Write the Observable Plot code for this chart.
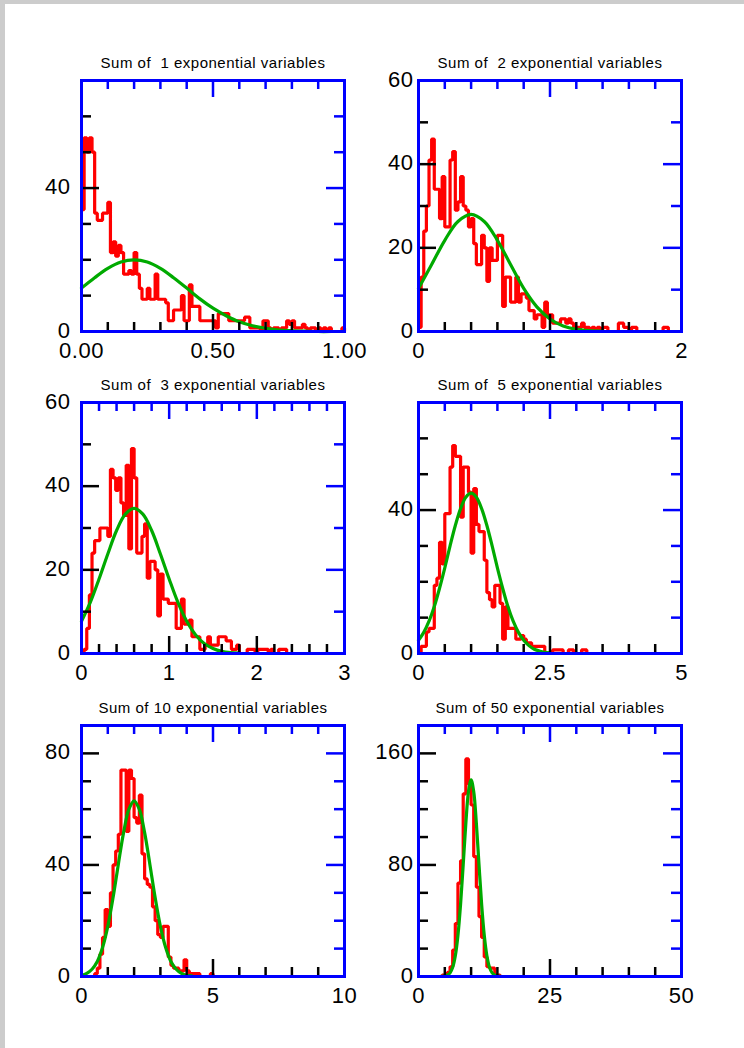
<!DOCTYPE html>
<html><head><meta charset="utf-8">
<script src="https://cdn.jsdelivr.net/npm/d3@7"></script>
<script src="https://cdn.jsdelivr.net/npm/@observablehq/plot@0.6"></script>
<style>
html,body{margin:0;padding:0;width:744px;height:1048px;overflow:hidden;background:#cccccc}
#page{position:absolute;left:5px;top:4px;right:0;bottom:0;background:#ffffff}
.panel{position:absolute}
svg text{white-space:pre}
</style></head><body><div id="page"></div>
<script>
// ---- data ----
const titles = ["Sum of  1 exponential variables","Sum of  2 exponential variables","Sum of  3 exponential variables",
                "Sum of  5 exponential variables","Sum of 10 exponential variables","Sum of 50 exponential variables"];
const binWidths = [0.01, 0.02, 0.03, 0.05, 0.1, 0.5];

const counts1 = [34,54,50,54,50,33,31,31,33,33, 36,22,25,21,24,22,16,16,17,16, 22,16,12,9,9,12,9,9,16,9,
  9,9,8,3,3,6,6,6,10,3, 3,13,7,7,7,3,3,3,3,3, 3,1,5,5,5,5,3,3,3,3, 3,3,4,4,1,1,1,1,0,3,
  3,1,0,1,1,0,1,1,3,2, 3,1,1,1,2,1,0,1,1,0, 1,0,1,0,1,0,0,0,0,1];
const counts2 = [1,13,24,30,41,46,34,34,27,37, 25,25,41,43,29,31,37,30,29,25, 27,21,16,16,23,20,12,20,17,17,
  23,23,6,13,13,7,7,13,7,9, 9,8,5,5,3,4,4,1,7,4, 4,2,2,2,3,3,2,3,2,1, 1,1,2,1,1,0,1,0,1,0,
  1,1,0,0,0,0,2,2,1,1, 0,1,1,0,0,0,0,0,0,0, 0,0,0,1,1];
const counts3 = [0,1,6,14,24,27,27,30,30,30, 28,44,42,39,42,36,33,45,25,49, 42,24,24,28,31,18,22,22,20,9,
  19,13,13,12,12,12,6,6,13,7, 7,8,4,4,4,1,1,2,4,2, 2,2,4,4,4,3,3,1,1,2, 0,0,0,1,1,1,0,1,1,1,
  1,0,1,0,0,1,1,1];
const counts4 = [0,2,2,6,7,7,19,21,31,25, 39,39,52,58,55,55,38,52,52,45, 28,46,36,34,34,26,17,15,13,19,
  19,14,4,13,7,7,7,4,4,5, 4,3,3,2,2,2,2,2,0,0, 0,1,1,1,1,0,0,1,1,0, 0,0,1,1];
const counts5 = [0,0,0,0,0,1,3,8,14,24, 18,30,40,45,51,74,74,52,74,71, 57,55,65,44,35,33,32,25,20,15,
  14,18,18,7,4,3,3,2,2,6, 2,1,1,1,1,0,0,0,0,1];
const counts6 = [0,0,0,0,0,0,0,0,0,1, 1,3,7,19,38,67,83,131,156,138, 123,86,64,43,28,14,7,6,6,1, 1,0];

const curveX1 = [0,0.05,0.1,0.15,0.2,0.25,0.3,0.35,0.4,0.45,0.5,0.55,0.6,0.65,0.7,0.75,0.8,0.85,0.9,0.95];
const curveY1 = [12.1,15.0,17.6,19.4,20.0,19.4,17.6,15.0,12.1,9.1,6.5,4.4,2.7,1.6,0.9,0.4,0.2,0.1,0.0,0.0];
const curveX2 = [0,0.1,0.2,0.3,0.4,0.5,0.6,0.7,0.8,0.9,1.0,1.1,1.2,1.3,1.4];
const curveY2 = [10.3,16.0,21.8,26.3,28.0,26.3,21.8,16.0,10.3,5.9,3.0,1.3,0.5,0.2,0.1];
const curveX3 = [0,0.1,0.2,0.3,0.4,0.5,0.6,0.7,0.8,0.9,1.0,1.1,1.2,1.3,1.4,1.5,1.6,1.7,1.8];
const curveY3 = [7.7,12.2,17.8,23.8,29.4,33.3,34.7,33.3,29.4,23.8,17.8,12.2,7.7,4.5,2.4,1.2,0.5,0.2,0.1];
const curveX4 = [0,0.1,0.2,0.3,0.4,0.5,0.6,0.7,0.8,0.9,1.0,1.1,1.2,1.3,1.4,1.5,1.6,1.7,1.8,1.9,2.0,2.1,2.2,2.3,2.4,2.5];
const curveY4 = [3.7,5.9,9.0,13.1,18.2,23.9,30.0,35.7,40.4,43.6,44.7,43.6,40.4,35.7,30.0,23.9,18.2,13.1,9.0,5.9,3.7,2.2,1.2,0.7,0.3,0.2];
const curveX5 = [0,0.2,0.4,0.6,0.8,1.0,1.2,1.4,1.6,1.8,2.0,2.2,2.4,2.6,2.8,3.0,3.2,3.4,3.6,3.8,4.0,4.2];
const curveY5 = [0.4,1.1,2.6,5.4,10.4,18.0,28.3,40.2,51.6,59.9,63.0,59.9,51.6,40.2,28.3,18.0,10.4,5.4,2.6,1.1,0.4,0.2];
const curveX6 = [4,4.5,5,5.5,6,6.5,7,7.5,8,8.5,9,9.5,10,10.5,11,11.5,12,12.5,13,13.5,14,14.5,15,15.5,16];
const curveY6 = [0.0,0.1,0.3,0.9,2.6,6.6,14.9,29.6,51.9,80.3,109.8,132.5,141.0,132.5,109.8,80.3,51.9,29.6,14.9,6.6,2.6,0.9,0.3,0.1,0.0];

const xDomains = [[0,1],[0,2],[0,3],[0,5],[0,10],[0,50]];
const yDomains = [[0,70],[0,60],[0,60],[0,70],[0,90],[0,180]];

const xMajor1 = [0,0.5,1],   xLabels1 = ["0.00","0.50","1.00"], xMinor1 = [0.1,0.2,0.3,0.4,0.6,0.7,0.8,0.9];
const xMajor2 = [0,1,2],     xLabels2 = ["0","1","2"],          xMinor2 = [0.2,0.4,0.6,0.8,1.2,1.4,1.6,1.8];
const xMajor3 = [0,1,2,3],   xLabels3 = ["0","1","2","3"],      xMinor3 = [0.2,0.4,0.6,0.8,1.2,1.4,1.6,1.8,2.2,2.4,2.6,2.8];
const xMajor4 = [0,2.5,5],   xLabels4 = ["0","2.5","5"],        xMinor4 = [0.5,1,1.5,2,3,3.5,4,4.5];
const xMajor5 = [0,5,10],    xLabels5 = ["0","5","10"],         xMinor5 = [1,2,3,4,6,7,8,9];
const xMajor6 = [0,25,50],   xLabels6 = ["0","25","50"],        xMinor6 = [5,10,15,20,30,35,40,45];

const yMajor1 = [0,40],      yLabels1 = ["0","40"],             yMinor1 = [10,20,30,50,60];
const yMajor2 = [0,20,40,60],yLabels2 = ["0","20","40","60"],   yMinor2 = [10,30,50];
const yMajor3 = [0,20,40,60],yLabels3 = ["0","20","40","60"],   yMinor3 = [10,30,50];
const yMajor4 = [0,40],      yLabels4 = ["0","40"],             yMinor4 = [10,20,30,50,60];
const yMajor5 = [0,40,80],   yLabels5 = ["0","40","80"],        yMinor5 = [10,20,30,50,60,70];
const yMajor6 = [0,80,160],  yLabels6 = ["0","80","160"],       yMinor6 = [20,40,60,100,120,140];

// ---- layout ----
const counts = [counts1,counts2,counts3,counts4,counts5,counts6];
const curvesX = [curveX1,curveX2,curveX3,curveX4,curveX5,curveX6];
const curvesY = [curveY1,curveY2,curveY3,curveY4,curveY5,curveY6];
const xMajors = [xMajor1,xMajor2,xMajor3,xMajor4,xMajor5,xMajor6];
const xLabelss = [xLabels1,xLabels2,xLabels3,xLabels4,xLabels5,xLabels6];
const xMinors = [xMinor1,xMinor2,xMinor3,xMinor4,xMinor5,xMinor6];
const yMajors = [yMajor1,yMajor2,yMajor3,yMajor4,yMajor5,yMajor6];
const yLabelss = [yLabels1,yLabels2,yLabels3,yLabels4,yLabels5,yLabels6];
const yMinors = [yMinor1,yMinor2,yMinor3,yMinor4,yMinor5,yMinor6];

const frameLefts = [81.3, 418];
const frameTops = [79.5, 402.3, 725];
const innerW = 263, innerH = 251;
const ML = 75, MR = 25, MT = 45, MB = 40;
const BLUE = "#0000ff", RED = "#ff0000", GREEN = "#00aa00";

for (let p = 0; p < 6; p++) {
  const col = p % 2, row = Math.floor(p / 2);
  const bw = binWidths[p];
  const hist = counts[p].map((c, i) => ({x: i * bw, y: c}));
  hist.push({x: counts[p].length * bw, y: 0});
  const curve = curvesX[p].map((x, i) => ({x, y: curvesY[p][i]}));
  const xl = xLabelss[p], yl = yLabelss[p];
  const tick = {strokeWidth: 2.5, strokeLinecap: "butt"};
  const svg = Plot.plot({
    width: ML + innerW + MR, height: MT + innerH + MB,
    marginLeft: ML, marginRight: MR, marginTop: MT, marginBottom: MB,
    x: {domain: xDomains[p], axis: null},
    y: {domain: yDomains[p], axis: null},
    style: {background: "transparent", overflow: "visible", color: "black",
            fontFamily: "'Liberation Sans', Arial, Helvetica, sans-serif", letterSpacing: "0.5px"},
    marks: [
      Plot.line(hist, {x: "x", y: "y", curve: "step-after", stroke: RED, strokeWidth: 3.2,
                       strokeLinejoin: "miter", strokeLinecap: "butt"}),
      Plot.line(curve, {x: "x", y: "y", curve: "catmull-rom", stroke: GREEN, strokeWidth: 3.2}),
      Plot.ruleX(xMinors[p], {x: d => d, stroke: "black", ...tick, insetTop: innerH - 9}),
      Plot.ruleX(xMajors[p], {x: d => d, stroke: "black", ...tick, insetTop: innerH - 17}),
      Plot.ruleX(xMinors[p], {x: d => d, stroke: BLUE, ...tick, insetBottom: innerH - 9}),
      Plot.ruleX(xMajors[p], {x: d => d, stroke: BLUE, ...tick, insetBottom: innerH - 17}),
      Plot.ruleY(yMinors[p], {y: d => d, stroke: "black", ...tick, insetRight: innerW - 10}),
      Plot.ruleY(yMajors[p], {y: d => d, stroke: "black", ...tick, insetRight: innerW - 18}),
      Plot.ruleY(yMinors[p], {y: d => d, stroke: BLUE, ...tick, insetLeft: innerW - 10}),
      Plot.ruleY(yMajors[p], {y: d => d, stroke: BLUE, ...tick, insetLeft: innerW - 18}),
      Plot.frame({stroke: BLUE, strokeWidth: 3}),
      Plot.text(xMajors[p], {x: d => d, text: (d, i) => xl[i], frameAnchor: "bottom",
                             lineAnchor: "top", dy: 11, fontSize: 22, fill: "black"}),
      Plot.text(yMajors[p], {y: d => d, text: (d, i) => yl[i], frameAnchor: "left",
                             textAnchor: "end", dx: col === 0 ? -11 : -5, dy: -1, fontSize: 22, fill: "black"}),
      Plot.text([titles[p]], {text: d => d, frameAnchor: "top", lineAnchor: "bottom",
                              dy: -13, fontSize: 15, fill: "black"})
    ]
  });
  svg.classList.add("panel");
  svg.style.left = (frameLefts[col] - ML) + "px";
  svg.style.top = (frameTops[row] - MT) + "px";
  svg.style.maxWidth = "none";
  document.body.appendChild(svg);
}
</script></body></html>
